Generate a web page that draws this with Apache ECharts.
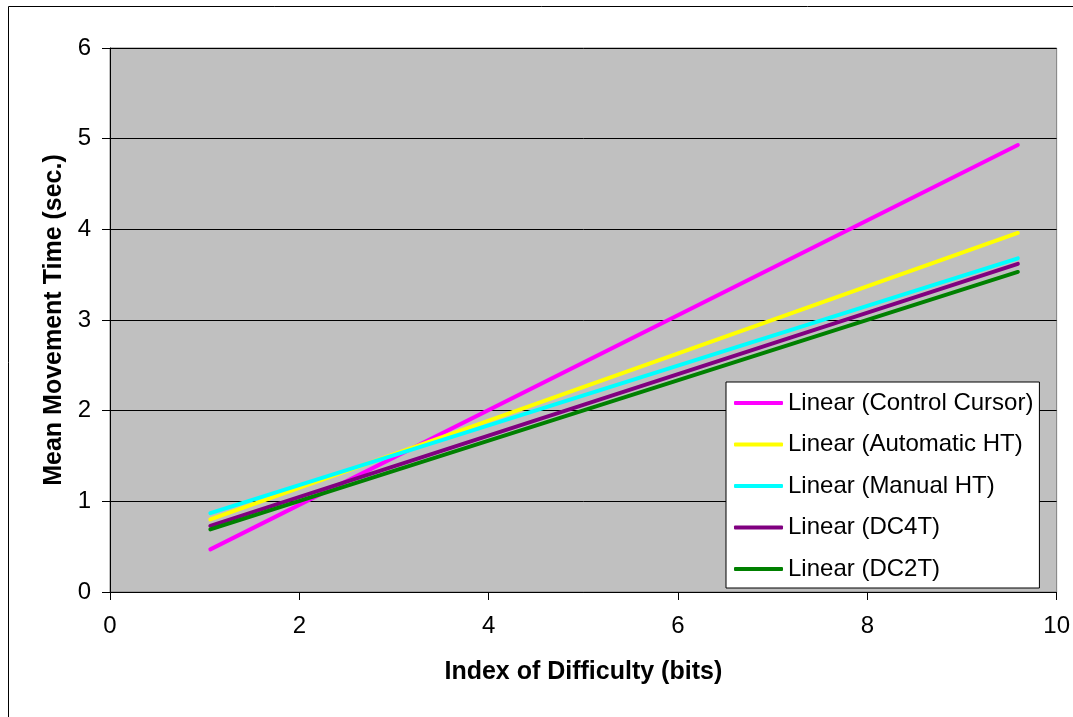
<!DOCTYPE html>
<html>
<head>
<meta charset="utf-8">
<script src="https://cdn.jsdelivr.net/npm/echarts@6/dist/echarts.min.js"></script>
<style>
  html, body { margin: 0; padding: 0; background: #ffffff; }
  #chart { width: 1073px; height: 717px; }
</style>
</head>
<body>
<div id="chart"></div>
<script>
// Fitted regression lines: movement time vs. index of difficulty
const idRange = [1.06, 9.59];
const seriesNames = [
  'Linear (Control Cursor)',
  'Linear (Automatic HT)',
  'Linear (Manual HT)',
  'Linear (DC4T)',
  'Linear (DC2T)'
];
const controlCursor = [0.47, 4.93];
const automaticHT = [0.80, 3.96];
const manualHT = [0.87, 3.68];
const dc4t = [0.73, 3.62];
const dc2t = [0.69, 3.53];
const seriesColors = ['#FF00FF', '#FFFF00', '#00FFFF', '#800080', '#008000'];
const xTicks = [0, 2, 4, 6, 8, 10];
const yTicks = [0, 1, 2, 3, 4, 5, 6];

const seriesValues = [controlCursor, automaticHT, manualHT, dc4t, dc2t];
const font = '"Liberation Sans", Arial, sans-serif';

const chart = echarts.init(document.getElementById('chart'), null, { renderer: 'canvas' });

chart.setOption({
  animation: false,
  backgroundColor: '#ffffff',
  graphic: [{
    type: 'rect',
    shape: { x: 8.5, y: 6.5, width: 1200, height: 800 },
    style: { fill: 'none', stroke: '#000000', lineWidth: 1 },
    silent: true,
    z: -10
  }],
  grid: {
    left: 110, right: 14, top: 48, bottom: 125,
    show: true,
    backgroundColor: '#C0C0C0',
    borderColor: '#808080',
    borderWidth: 1
  },
  xAxis: {
    type: 'value',
    min: xTicks[0], max: xTicks[xTicks.length - 1], interval: 2,
    name: 'Index of Difficulty (bits)',
    nameLocation: 'middle',
    nameGap: 68,
    nameTextStyle: { fontFamily: font, fontSize: 25, fontWeight: 'bold', color: '#000' },
    axisLine: { show: true, lineStyle: { color: '#000', width: 1 } },
    axisTick: { show: true, inside: false, length: 8, lineStyle: { color: '#000' } },
    axisLabel: { fontFamily: font, fontSize: 24, color: '#000', margin: 22 },
    splitLine: { show: false }
  },
  yAxis: {
    type: 'value',
    min: yTicks[0], max: yTicks[yTicks.length - 1], interval: 1,
    name: 'Mean Movement Time (sec.)',
    nameLocation: 'middle',
    nameGap: 38,
    nameTextStyle: { fontFamily: font, fontSize: 25, fontWeight: 'bold', color: '#000' },
    axisLine: { show: true, lineStyle: { color: '#000', width: 1 } },
    axisTick: { show: true, inside: false, length: 8, lineStyle: { color: '#000' } },
    axisLabel: { fontFamily: font, fontSize: 24, color: '#000', margin: 19 },
    splitLine: { show: true, lineStyle: { color: '#000', width: 1 } }
  },
  legend: {
    orient: 'vertical',
    left: 726, top: 382,
    padding: [9, 6, 7, 8],
    backgroundColor: '#ffffff',
    borderColor: '#000000',
    borderWidth: 1,
    borderRadius: 0,
    icon: 'roundRect',
    itemWidth: 49,
    itemHeight: 4,
    itemGap: 17.5,
    textStyle: { fontFamily: font, fontSize: 24, color: '#000', lineHeight: 24 },
    data: seriesNames
  },
  series: seriesNames.map((name, i) => ({
    name: name,
    type: 'line',
    showSymbol: false,
    symbol: 'none',
    color: seriesColors[i],
    lineStyle: { width: 4, color: seriesColors[i], cap: 'round' },
    data: idRange.map((x, j) => [x, seriesValues[i][j]])
  }))
});
</script>
</body>
</html>
